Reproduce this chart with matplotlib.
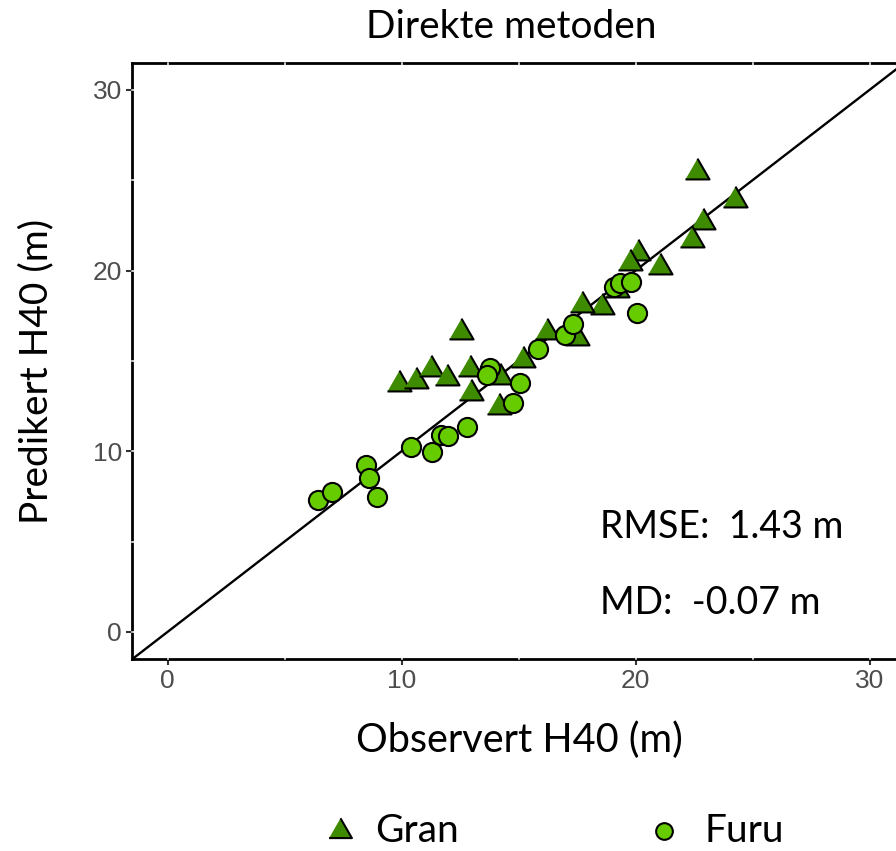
import matplotlib
matplotlib.use("Agg")
import matplotlib.pyplot as plt
from matplotlib.lines import Line2D

# observed vs predicted H40 (m)
gran_obs = [22.63, 24.25, 22.88, 22.42, 21.05, 20.11, 19.76, 19.21, 18.57, 17.71, 17.50,
            16.22, 15.19, 14.21, 12.54, 9.89, 10.62, 11.26, 11.94, 12.93, 12.97, 14.17]
gran_pred = [25.46, 23.91, 22.69, 21.69, 20.20, 20.97, 20.42, 18.93, 17.99, 18.10, 16.27,
             16.60, 15.05, 14.11, 16.60, 13.72, 13.89, 14.55, 14.06, 14.55, 13.23, 12.45]

furu_obs = [6.44, 7.03, 8.48, 8.61, 8.95, 10.41, 11.30, 11.69, 11.98, 12.80, 14.76,
            15.06, 13.78, 13.65, 15.83, 16.99, 17.33, 19.08, 19.34, 19.81, 20.06]
furu_pred = [7.30, 7.75, 9.24, 8.52, 7.47, 10.24, 9.96, 10.90, 10.85, 11.35, 12.67,
             13.78, 14.61, 14.22, 15.66, 16.44, 17.04, 19.09, 19.31, 19.37, 17.65]

ticks = [0, 10, 20, 30]
grid_pos = [0, 5, 10, 15, 20, 25, 30]
rmse_txt = "RMSE:  1.43 m"
md_txt = "MD:  -0.07 m"

gran_col = "#3F8B00"
furu_col = "#66CC00"
txt_font = ["Lato", "DejaVu Sans"]

plt.rcParams["font.family"] = ["Liberation Sans", "DejaVu Sans"]

# equilateral triangle like ggplot shape 24
tri = [(-1, -0.577), (1, -0.577), (0, 1.155)]

fig = plt.figure(figsize=(8.96, 8.51), dpi=100)
ax = fig.add_axes([0.1478, 0.2256, 0.8618, 0.7006])
ax.set_xlim(-1.5, 31.5)
ax.set_ylim(-1.5, 31.5)

# white grid lines that cut through the panel border (ggplot look)
for g in grid_pos:
    ax.axvline(g, color="white", lw=1.1, zorder=2.6, clip_on=False)
    ax.axhline(g, color="white", lw=1.1, zorder=2.6, clip_on=False)

ax.axline((0, 0), slope=1, color="black", lw=1.7, zorder=2.7)

ax.scatter(gran_obs, gran_pred, marker=tri, s=400, c=gran_col,
           edgecolors="black", linewidths=1.5, zorder=3)
ax.scatter(furu_obs, furu_pred, marker="o", s=190, c=furu_col,
           edgecolors="black", linewidths=1.5, zorder=4)

for sp in ax.spines.values():
    sp.set_linewidth(2.0)
    sp.set_color("black")
    sp.set_zorder(2.5)

ax.set_xticks(ticks)
ax.set_yticks(ticks)
ax.tick_params(direction="out", length=4.5, width=1.5, color="#333333",
               labelcolor="#4D4D4D", labelsize=19, pad=3)

ax.text(18.48, 5.81, rmse_txt, ha="left", va="center", fontsize=27, family=txt_font)
ax.text(18.48, 1.6, md_txt, ha="left", va="center", fontsize=27, family=txt_font)

fig.text(0.571, 0.968, "Direkte metoden", ha="center", va="center",
         fontsize=28, family=txt_font)
fig.text(0.580, 0.130, "Observert H40 (m)", ha="center", va="center",
         fontsize=28.5, family=txt_font)
fig.text(0.040, 0.563, "Predikert H40 (m)", ha="center", va="center",
         rotation=90, fontsize=28, family=txt_font)

# legend at the bottom, placed by hand
leg_y = 1 - 831 / 851
fig.add_artist(Line2D([340 / 896], [leg_y], transform=fig.transFigure, marker=tri,
                      ls="none", markersize=19, markerfacecolor=gran_col,
                      markeredgecolor="black", markeredgewidth=1.5))
fig.add_artist(Line2D([664 / 896], [leg_y], transform=fig.transFigure, marker="o",
                      ls="none", markersize=12, markerfacecolor=furu_col,
                      markeredgecolor="black", markeredgewidth=1.5))
fig.text(375 / 896, leg_y, "Gran", ha="left", va="center", fontsize=28, family=txt_font)
fig.text(705 / 896, leg_y, "Furu", ha="left", va="center", fontsize=28, family=txt_font)

fig.savefig("out.png", dpi=100)
